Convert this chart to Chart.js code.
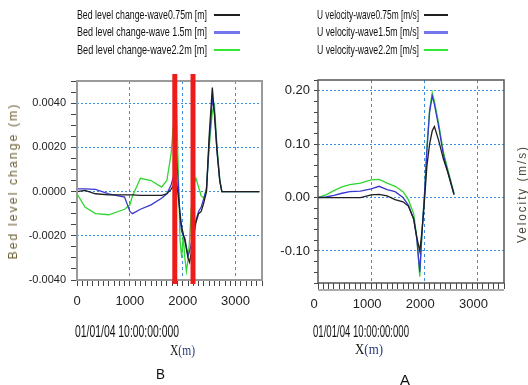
<!DOCTYPE html>
<html>
<head>
<meta charset="utf-8">
<script src="https://cdn.jsdelivr.net/npm/chart.js@4.4.1/dist/chart.umd.min.js"></script>
<style>
  html, body { margin: 0; padding: 0; background: #fff; }
  body { width: 528px; height: 385px; position: relative; overflow: hidden; }
  canvas { position: absolute; top: 0; }
  .txt { position: absolute; white-space: nowrap; line-height: 1; transform-origin: 0 50%; }
  .swatch { position: absolute; }
</style>
</head>
<body>
<canvas id="bedChart" width="270" height="385" style="left:0"></canvas>
<canvas id="velChart" width="258" height="385" style="left:270px"></canvas>
<script>
// ---- data ----
const bedLabels = [
  "Bed level change-wave0.75m [m]",
  "Bed level change-wave 1.5m  [m]",
  "Bed level change-wave2.2m  [m]",
];
const bedX = [0, 150, 350, 600, 900, 1000, 1050, 1200, 1400, 1600, 1700, 1780, 1850, 1880, 1920, 1950, 1980, 2010, 2040, 2070, 2100, 2130, 2160, 2200, 2250, 2300, 2350, 2400, 2450, 2500, 2560, 2600, 2650, 2700, 2740, 3000, 3450];
const bedWave075 = [0, 0.00005, -0.0001, -0.00015, -0.00015, -0.00015, -0.00015, -0.00017, -0.00017, -0.00017, -0.0001, 0.0001, 0.0004, 0.0005, -0.0003, -0.001, -0.0016, -0.0019, -0.0022, -0.0026, -0.003, -0.0032, -0.0028, -0.0021, -0.0014, -0.001, -0.0009, -0.0005, 0, 0.0025, 0.0047, 0.0035, 0.0018, 0.0005, 0, 0, 0];
const bedWave15 = [0.00012, 0.00012, 0.0001, -0.0001, -0.00025, -0.0009, -0.001, -0.0008, -0.0006, -0.0003, -0.0001, 0.0003, 0.0009, 0.0018, 0.0002, -0.0012, -0.0018, -0.002, -0.0021, -0.0025, -0.0029, -0.0027, -0.0024, -0.0018, -0.0013, -0.0009, -0.0007, -0.0003, 0.0001, 0.0022, 0.0042, 0.0036, 0.0018, 0.0005, 0, 0, 0];
const bedWave22 = [-0.0001, -0.0007, -0.001, -0.00105, -0.0008, -0.0006, -0.0002, 0.0006, 0.0005, 0.0002, 0.0005, 0.0017, 0.0038, 0.0043, 0.0005, -0.0022, -0.003, -0.002, -0.003, -0.0036, -0.0031, -0.0022, -0.0008, 0.0003, 0.0006, 0.0002, -0.0002, -0.0003, 0.0002, 0.002, 0.0036, 0.0039, 0.002, 0.0006, 0, 0, 0];
const bedYTicks = [-0.004, -0.002, 0, 0.002, 0.004];
const cutX = [1850, 2195];

const velLabels = [
  "U velocity-wave0.75m [m/s]",
  "U velocity-wave1.5m  [m/s]",
  "U velocity-wave2.2m  [m/s]",
];
const velX = [0, 150, 300, 450, 600, 800, 1000, 1150, 1300, 1450, 1600, 1700, 1800, 1860, 1915, 1960, 2000, 2050, 2100, 2150, 2190, 2270, 2360, 2450, 2560];
const velWave075 = [0, 0, 0, 0, 0, 0, 0.005, 0.006, 0.003, -0.004, -0.008, -0.016, -0.04, -0.075, -0.1, -0.06, -0.01, 0.06, 0.1, 0.125, 0.133, 0.107, 0.072, 0.045, 0.006];
const velWave15 = [0, 0.001, 0.004, 0.008, 0.011, 0.012, 0.016, 0.021, 0.015, 0.011, 0, -0.014, -0.04, -0.078, -0.14, -0.06, -0.002, 0.09, 0.16, 0.19, 0.175, 0.133, 0.08, 0.045, 0.005];
const velWave22 = [0, 0.005, 0.013, 0.02, 0.024, 0.027, 0.033, 0.034, 0.027, 0.021, 0.011, -0.004, -0.03, -0.075, -0.148, -0.06, 0, 0.095, 0.165, 0.196, 0.18, 0.139, 0.085, 0.05, 0.008];
const velYTicks = [-0.1, 0, 0.1, 0.2];

const xTickLabels = [0, 1000, 2000, 3000];

// ---- styling ----
const colors = ["#1e1e1e", "#3838cc", "#2fd62f"];
const legendColors = ["#1e1e1e", "#7474ec", "#33e833"];
const gridBlue = "#3d8fe0";
const narrow = '"Liberation Sans Narrow", "Liberation Sans", Arial, sans-serif';
const sans = '"Liberation Sans", Arial, sans-serif';

const toPoints = (xs, ys) => xs.map((x, i) => ({ x, y: ys[i] }));

const framePlugin = {
  id: "frame",
  afterDatasetsDraw(chart, args, opts) {
    const { ctx, chartArea: a } = chart;
    ctx.save();
    ctx.strokeStyle = opts.color;
    ctx.lineWidth = opts.width;
    ctx.strokeRect(a.left, a.top, a.right - a.left, a.bottom - a.top);
    if (opts.axisLine) {
      ctx.lineWidth = 1;
      ctx.beginPath();
      ctx.moveTo(a.left, a.bottom + opts.axisLine);
      ctx.lineTo(a.right, a.bottom + opts.axisLine);
      ctx.stroke();
    }
    ctx.restore();
  },
};

const cutLinesPlugin = {
  id: "cutLines",
  afterDraw(chart, args, opts) {
    if (!opts.values) return;
    const { ctx, chartArea: a, scales } = chart;
    ctx.save();
    ctx.strokeStyle = "#ee1b1b";
    ctx.lineWidth = 5;
    opts.values.forEach((v) => {
      const px = scales.x.getPixelForValue(v);
      ctx.beginPath();
      ctx.moveTo(px, a.top - 7);
      ctx.lineTo(px, a.bottom + 4);
      ctx.stroke();
    });
    ctx.restore();
  },
};

function makeChart(id, cfg) {
  const datasets = cfg.series.map((ys, i) => ({
    label: cfg.labels[i],
    data: toPoints(cfg.xs, ys),
    borderColor: colors[i],
    borderWidth: 1.3,
    pointRadius: 0,
    tension: 0,
    fill: false,
  }));

  return new Chart(document.getElementById(id), {
    type: "line",
    data: { datasets },
    plugins: [framePlugin, cutLinesPlugin],
    options: {
      responsive: false,
      animation: false,
      events: [],
      layout: { padding: cfg.padding },
      plugins: {
        legend: { display: false },
        tooltip: { enabled: false },
        frame: cfg.frame,
        cutLines: { values: cfg.cuts },
      },
      scales: {
        x: {
          type: "linear",
          min: 0,
          max: 3500,
          afterFit: (s) => { s.height = 32; },
          ticks: {
            stepSize: 100,
            autoSkip: false,
            maxRotation: 0,
            padding: 8,
            labelOffset: cfg.xLabelOffset,
            color: "#222",
            font: { family: narrow, size: 13 },
            callback: (v) => (xTickLabels.includes(v) ? String(v) : ""),
          },
          grid: {
            color: (c) => (c.tick && c.tick.value > 0 && c.tick.value % 1000 === 0 ? gridBlue : "rgba(0,0,0,0)"),
            tickColor: "#444",
            tickLength: 6,
            lineWidth: 1,
          },
          border: { display: false, dash: [3, 3] },
        },
        y: {
          min: cfg.yMin,
          max: cfg.yMax,
          afterFit: (s) => { s.width = cfg.yWidth; },
          ticks: {
            stepSize: cfg.yStep,
            autoSkip: false,
            padding: cfg.yPad,
            color: "#222",
            font: cfg.yFont,
            callback: (v) => {
              const k = Math.round(v * cfg.yScale);
              const hit = cfg.yTicks.some((t) => Math.round(t * cfg.yScale) === k);
              return hit ? (k / cfg.yScale).toFixed(cfg.yDigits) : "";
            },
          },
          grid: {
            color: (c) => {
              if (!c.tick) return "rgba(0,0,0,0)";
              const k = Math.round(c.tick.value * cfg.yScale);
              const hit = cfg.yTicks.some((t) => Math.round(t * cfg.yScale) === k);
              return hit && c.tick.value > cfg.yMin ? gridBlue : "rgba(0,0,0,0)";
            },
            tickColor: "#444",
            tickLength: cfg.yTickLen,
            lineWidth: 1,
          },
          border: { display: false, dash: [2, 2] },
        },
      },
    },
  });
}

makeChart("bedChart", {
  labels: bedLabels,
  xs: bedX,
  series: [bedWave075, bedWave15, bedWave22],
  padding: { top: 81, right: 2, bottom: 73, left: 0 },
  yWidth: 77,
  yMin: -0.004,
  yMax: 0.005,
  yStep: 0.0005,
  yTicks: bedYTicks,
  yScale: 10000,
  yDigits: 4,
  yPad: 5,
  yTickLen: 6,
  yFont: { family: sans, size: 11 },
  xLabelOffset: 0,
  frame: { color: "#9a9a9a", width: 2 },
  cuts: cutX,
});

makeChart("velChart", {
  labels: velLabels,
  xs: velX,
  series: [velWave075, velWave15, velWave22],
  padding: { top: 80, right: 24, bottom: 70, left: 0 },
  yWidth: 48,
  yMin: -0.16,
  yMax: 0.22,
  yStep: 0.02,
  yTicks: velYTicks,
  yScale: 100,
  yDigits: 2,
  yPad: 4,
  yTickLen: 4,
  yFont: { family: narrow, size: 13 },
  xLabelOffset: -4,
  frame: { color: "#555", width: 1.5, axisLine: 7 },
  cuts: null,
});

// ---- text around the plots ----
function addText(html, x, cy, w, font, color, sy) {
  const el = document.createElement("div");
  el.className = "txt";
  el.innerHTML = html;
  el.style.font = font;
  el.style.color = color || "#111";
  document.body.appendChild(el);
  const r = el.getBoundingClientRect();
  el.style.left = x + "px";
  el.style.top = cy - r.height / 2 + "px";
  el.style.transform = `scale(${w / r.width}, ${sy || 1})`;
  return el;
}

function addVertical(text, cx, cy, len, font, color) {
  const el = document.createElement("div");
  el.className = "txt";
  el.textContent = text;
  el.style.font = font;
  el.style.color = color;
  el.style.letterSpacing = "2px";
  document.body.appendChild(el);
  const w = el.getBoundingClientRect().width;
  el.style.left = cx + "px";
  el.style.top = cy + "px";
  el.style.transformOrigin = "50% 50%";
  el.style.transform = `translate(-50%, -50%) rotate(-90deg) scaleX(${len / w})`;
}

function addLegend(labels, textLeft, textWidth, lineLeft, lineWidth, rows) {
  labels.forEach((label, i) => {
    addText(label, textLeft, rows[i], textWidth, "12px " + narrow, "#111", 1.1);
    const sw = document.createElement("div");
    sw.className = "swatch";
    const h = i === 1 ? 3 : 2;
    sw.style.left = lineLeft + "px";
    sw.style.top = rows[i] - h / 2 + "px";
    sw.style.width = lineWidth + "px";
    sw.style.height = h + "px";
    sw.style.background = legendColors[i];
    document.body.appendChild(sw);
  });
}

addLegend(bedLabels, 77, 130, 214, 26, [14.7, 32.3, 50]);
addLegend(velLabels, 317, 102, 424, 24, [14.7, 32.3, 50]);

addVertical("Bed level change (m)", 13, 181, 157, "12px " + sans, "#6e6034");
addVertical("Velocity (m/s)", 522, 194, 98, "12px " + sans, "#4a4536");

const stamp = "01/01/04 10:00:00:000";
addText(stamp, 75, 331, 104, "13px " + narrow, "#111", 1.3);
addText(stamp, 313, 331, 96, "13px " + narrow, "#111", 1.3);

const xTitle = 'X<span style="color:#2a3a7a">(m)</span>';
const serif = '"Liberation Serif", "DejaVu Serif", serif';
addText(xTitle, 170, 351, 25, "14px " + serif, "#111", 1.1);
addText(xTitle, 355, 350, 28, "14px " + serif, "#111", 1.1);

addText("B", 156, 374, 9, "14px " + sans, "#111", 1);
addText("A", 400, 380, 10, "14px " + sans, "#111", 1);
</script>
</body>
</html>
